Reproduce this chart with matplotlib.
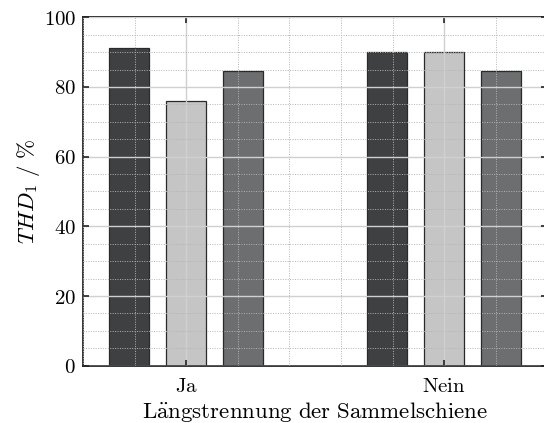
import numpy as np
import matplotlib.pyplot as plt
from matplotlib.ticker import MultipleLocator, FuncFormatter

plt.rcParams['mathtext.fontset'] = 'cm'
plt.rcParams['font.family'] = 'serif'
plt.rcParams['font.serif'] = ['DejaVu Serif']

groups = [r'$\mathrm{Ja}$', r'$\mathrm{Nein}$']
series_a = [91.3, 89.9]
series_b = [75.9, 89.9]
series_c = [84.7, 84.7]
bar_colors = ['#3e4042', '#c4c5c4', '#6c6e6f']

fig = plt.figure(figsize=(5.44, 4.23), dpi=100)
ax = fig.add_axes([83 / 544, (423 - 365.7) / 423, 464.4 / 544, 348.4 / 423])

x = np.arange(1, len(groups) + 1)
offset = 0.22
width = 0.155
for k, (vals, col) in enumerate(zip([series_a, series_b, series_c], bar_colors)):
    ax.bar(x + (k - 1) * offset, vals, width, color=col, edgecolor='#2a2a2a',
           linewidth=0.9, zorder=1)

ax.set_xlim(0.6, 2.4)
ax.set_ylim(0, 100)
ax.set_xticks(x)
ax.set_xticklabels(groups)
ax.yaxis.set_major_locator(MultipleLocator(20))
ax.yaxis.set_minor_locator(MultipleLocator(5))
ax.xaxis.set_minor_locator(MultipleLocator(0.2))
ax.yaxis.set_major_formatter(FuncFormatter(lambda v, p: r'$%d$' % round(v)))

# grid drawn above the bars
ax.set_axisbelow(False)
ax.grid(which='major', color='#d0d0d0', linestyle='-', linewidth=1.0, zorder=2)
ax.grid(which='minor', color='#b4b4b4', linestyle=(0, (1, 1.5)), linewidth=0.7, zorder=2)

ax.tick_params(which='major', direction='in', top=True, right=True, length=4,
               width=1.2, color='#222222', labelsize=15)
ax.tick_params(axis='x', which='major', pad=8)
ax.tick_params(axis='y', which='major', pad=5)
ax.tick_params(which='minor', length=0)
for s in ax.spines.values():
    s.set_linewidth(1.3)
    s.set_color('#262626')

ax.set_ylabel(r'$THD_1\ /\ \%$', fontsize=16.5, labelpad=1)
ax.set_xlabel(r'$\mathrm{L\ddot{a}ngstrennung\ der\ Sammelschiene}$', fontsize=16.5, labelpad=3)

fig.savefig('out.png', dpi=100)
